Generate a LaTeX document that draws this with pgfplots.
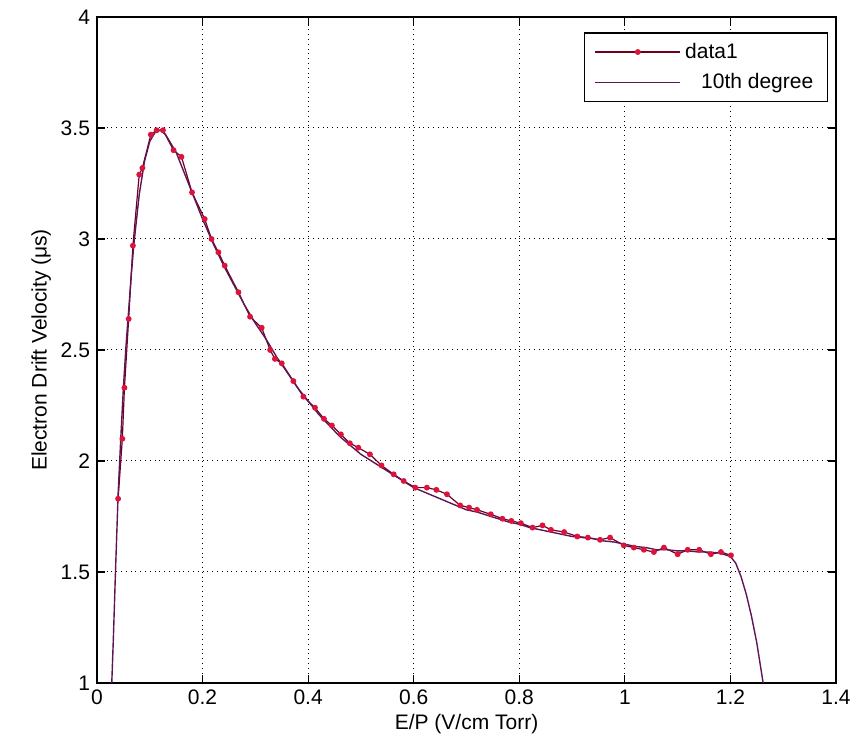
\documentclass[border=0pt]{standalone}
\usepackage{fontspec}
\setmainfont{Liberation Sans}
\usepackage{pgfplots}
\pgfplotsset{compat=1.18}

\definecolor{fitcol}{RGB}{95,20,85}
\definecolor{datline}{RGB}{110,0,30}
\definecolor{datmark}{RGB}{220,20,60}

\begin{document}
\begin{tikzpicture}
\begin{axis}[
  scale only axis,
  width=369.5pt, height=333pt,
  xmin=0, xmax=1.4, ymin=1, ymax=4,
  xtick={0,0.2,...,1.4}, ytick={1,1.5,...,4},
  xticklabels={0,0.2,0.4,0.6,0.8,1,1.2,1.4},
  yticklabels={1,1.5,2,2.5,3,3.5,4},
  tick align=inside, major tick length=4pt,
  grid=major, grid style={black, dotted, line width=0.5pt},
  axis line style={line width=0.8pt},
  every tick/.style={black, line width=0.6pt},
  tick label style={font=\fontsize{10.5}{12}\selectfont},
  label style={font=\fontsize{10.5}{12}\selectfont},
  /pgf/number format/assume math mode=true,
  xlabel={E/P (V/cm Torr)},
  ylabel={Electron Drift Velocity (μs)},
  xlabel style={yshift=2pt},
  ylabel style={yshift=-2pt},
  legend style={at={(0.989,0.977)}, anchor=north east, draw=black, line width=0.6pt,
    font=\fontsize{10.5}{12}\selectfont, row sep=2pt, inner xsep=5pt, inner ysep=3pt},
  legend cell align=left,
  legend image code/.code={
    \draw[mark repeat=2, mark phase=2, #1] plot coordinates {(0cm,0cm) (0.75cm,0cm) (1.5cm,0cm)};
  },
]
\coordinate (bl) at (rel axis cs:0,0);
\coordinate (tr) at (rel axis cs:1,1);

\addplot[color=datline, line width=0.6pt, mark=*, mark size=1.15pt,
  mark options={fill=datmark, draw=datmark}] coordinates {
(0.040,1.83) (0.048,2.10) (0.052,2.33) (0.060,2.64) (0.068,2.97)
(0.080,3.29) (0.086,3.32) (0.102,3.47) (0.113,3.49) (0.125,3.49)
(0.145,3.40) (0.160,3.37) (0.180,3.21) (0.204,3.09) (0.217,3.00)
(0.230,2.94) (0.242,2.88) (0.268,2.76) (0.290,2.65) (0.312,2.60)
(0.328,2.50) (0.337,2.46) (0.350,2.44) (0.372,2.36) (0.391,2.29)
(0.413,2.24) (0.430,2.19) (0.445,2.16) (0.462,2.12) (0.479,2.08)
(0.495,2.06) (0.517,2.03) (0.539,1.98) (0.562,1.94) (0.581,1.91)
(0.603,1.88) (0.625,1.88) (0.643,1.87) (0.663,1.85) (0.688,1.80)
(0.705,1.79) (0.720,1.78) (0.746,1.76) (0.768,1.74) (0.785,1.73)
(0.803,1.72) (0.825,1.70) (0.844,1.71) (0.860,1.69) (0.885,1.68)
(0.910,1.66) (0.930,1.655) (0.953,1.645) (0.972,1.655) (0.998,1.62)
(1.017,1.61) (1.036,1.60) (1.055,1.59) (1.074,1.61) (1.100,1.58)
(1.119,1.60) (1.141,1.60) (1.163,1.58) (1.182,1.59) (1.201,1.575)
};
\addlegendentry{data1}

\addplot[color=fitcol, line width=0.7pt] coordinates {
(0.028,1.00) (0.031,1.20) (0.035,1.50) (0.040,1.85) (0.045,2.10)
(0.050,2.33) (0.055,2.52) (0.060,2.68) (0.065,2.84) (0.070,2.98)
(0.080,3.20) (0.090,3.35) (0.100,3.44) (0.110,3.48) (0.120,3.49)
(0.130,3.47) (0.140,3.43) (0.150,3.39) (0.160,3.33) (0.170,3.27)
(0.180,3.21) (0.190,3.15) (0.200,3.09) (0.220,2.98) (0.240,2.88)
(0.260,2.79) (0.280,2.70) (0.300,2.62) (0.320,2.55) (0.340,2.47)
(0.360,2.40) (0.380,2.33) (0.400,2.27) (0.420,2.21) (0.440,2.16)
(0.460,2.11) (0.480,2.07) (0.500,2.03) (0.520,2.00) (0.540,1.97)
(0.560,1.94) (0.580,1.91) (0.600,1.88) (0.620,1.86) (0.640,1.84)
(0.660,1.82) (0.680,1.80) (0.700,1.78) (0.720,1.77) (0.740,1.755)
(0.760,1.74) (0.780,1.725) (0.800,1.715) (0.820,1.70) (0.840,1.69)
(0.860,1.68) (0.880,1.67) (0.900,1.66) (0.920,1.655) (0.940,1.65)
(0.960,1.64) (0.980,1.635) (1.000,1.625) (1.020,1.615) (1.040,1.61)
(1.060,1.60) (1.080,1.60) (1.100,1.595) (1.120,1.595) (1.140,1.59)
(1.160,1.59) (1.180,1.585) (1.200,1.57) (1.210,1.54) (1.220,1.48)
(1.230,1.40) (1.240,1.30) (1.250,1.18) (1.262,1.00)
};
\addlegendentry{\hspace{8pt}10th degree}
\end{axis}
\pgfresetboundingbox
\path ([shift={(-48.5pt,-35.5pt)}]bl) rectangle ([shift={(11pt,8.5pt)}]tr);
\end{tikzpicture}
\end{document}
